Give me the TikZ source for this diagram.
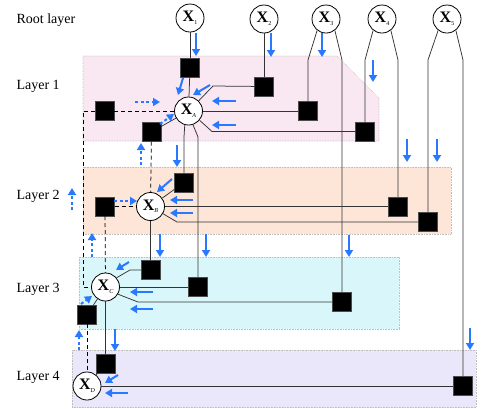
\documentclass[tikz,border=0pt]{standalone}
\usepackage{fontspec}
\setmainfont{Liberation Serif}
\usetikzlibrary{arrows.meta}

\definecolor{flowblue}{RGB}{41,121,255}
\definecolor{zoneA}{RGB}{249,231,242}
\definecolor{zoneB}{RGB}{253,229,215}
\definecolor{zoneC}{RGB}{217,246,250}
\definecolor{zoneD}{RGB}{235,231,250}

\newcommand{\vx}[1]{\textbf{X}\raisebox{-2.5pt}{\fontsize{6}{6}\selectfont#1}}

\begin{document}
\begin{tikzpicture}[x=1pt,y=-1pt,
  var/.style={circle,draw,fill=white,line width=0.8pt,minimum size=28pt,inner sep=0pt,font=\fontsize{16}{16}\selectfont},
  fac/.style={rectangle,fill=black,draw=black!70,minimum size=19pt,inner sep=0pt},
  lab/.style={anchor=west,font=\fontsize{14}{16}\selectfont},
  link/.style={draw=black!80,line width=0.75pt},
  dlink/.style={draw=black,line width=0.75pt,dash pattern=on 4pt off 3pt},
  flow/.style={draw=flowblue,line width=2pt,-{Triangle[length=7pt,width=8pt]}},
  dflow/.style={flow,dash pattern=on 3pt off 2.5pt},
  zone/.style={draw=gray!50,densely dotted,line width=0.6pt}]
 \useasboundingbox (0,0) rectangle (485,408);
 % layers
 \draw[zone,fill=zoneA](83,56)--(337,56)--(379,98)--(379,141)--(83,141)--cycle;
 \draw[zone,fill=zoneB](83,167) rectangle (451,234);
 \draw[zone,fill=zoneC](79,257) rectangle (399,329);
 \draw[zone,fill=zoneD](72,350) rectangle (476,407.5);
 \node[lab] (lr) at (13,20) {Root layer};
 \node[lab] (l1) at (13,86) {Layer 1};
 \node[lab] (l2) at (13,196) {Layer 2};
 \node[lab] (l3) at (13,289) {Layer 3};
 \node[lab] (l4) at (13,377) {Layer 4};
 % variables
 \node[var] (x1) at (190,18) {\vx{1}};
 \node[var] (x2) at (264,19) {\vx{2}};
 \node[var] (x3) at (326,19) {\vx{3}};
 \node[var] (x4) at (382,19) {\vx{4}};
 \node[var] (x5) at (447,19) {\vx{5}};
 \node[var] (xa) at (188.5,111) {\vx{\itshape A}};
 \node[var] (xb) at (150.5,206.5) {\vx{\itshape B}};
 \node[var] (xc) at (105.5,287) {\vx{\itshape C}};
 \node[var] (xd) at (87,386) {\vx{\itshape D}};
 % factors
 \node[fac] (sa1) at (190,68) {};
 \node[fac] (sa2) at (264,86.5) {};
 \node[fac] (sa3) at (308,111) {};
 \node[fac] (sa4) at (365,131.5) {};
 \node[fac] (sal) at (104.5,111) {};
 \node[fac] (sab) at (151.5,132) {};
 \node[fac] (sb1) at (184,182.5) {};
 \node[fac] (sbl) at (105,206.5) {};
 \node[fac] (sb4) at (398,206.5) {};
 \node[fac] (sb5) at (428,222) {};
 \node[fac] (sc1) at (150.5,270) {};
 \node[fac] (sc2) at (198,287) {};
 \node[fac] (sc3) at (342,302) {};
 \node[fac] (scl) at (87,314.5) {};
 \node[fac] (sd1) at (105.5,363.5) {};
 \node[fac] (sd5) at (463,386) {};
 % links
 \draw[link](x1)--(sa1);
 \draw[link](x2)--(sa2);
 \draw[link](x3.232)--(308,60)--(sa3);
 \draw[link](x3.308)--(342,60)--(sc3);
 \draw[link](x4.232)--(365,60)--(sa4);
 \draw[link](x4.308)--(398,60)--(sb4);
 \draw[link](x5.232)--(428,60)--(sb5);
 \draw[link](x5.308)--(463,60)--(sd5);
 \draw[link](sa1)--(xa);
 \draw[link](xa.45)--(213,86)--(sa2);
 \draw[link](xa)--(sa3);
 \draw[link](xa.-40)--(212,131.5)--(sa4);
 \draw[link](xa.255)--(184,137)--(sb1);
 \draw[link](xa.288)--(198,137)--(sc2);
 \draw[link](sab)--(xa);
 \draw[dlink](xa)--(sal);
 \draw[dlink](sal.west)--(83,111)|-(xc);
 \draw[dlink](sab)--(xb);
 \draw[link](sb1)--(xb);
 \draw[dlink](sbl)--(xb);
 \draw[link](xb)--(sb4);
 \draw[link](xb.-30)--(177,222)--(sb5);
 \draw[link](xb)--(sc1);
 \draw[dlink](sbl)--(xc);
 \draw[link](sc1.west)--(130,270)--(xc.40);
 \draw[link](xc)--(sc2);
 \draw[link](xc.-30)--(138,302)--(sc3);
 \draw[link](scl)--(xc);
 \draw[dlink](scl)--(xd);
 \draw[link](xc)--(sd1);
 \draw[link](sd1)--(xd);
 \draw[link](xd)--(sd5);
 % messages
 \draw[flow](196,33)--(196,56);
 \draw[flow](271,33)--(271,57);
 \draw[flow](322,33)--(322,57);
 \draw[flow](373,60)--(373,82);
 \draw[flow](407,139)--(407,162);
 \draw[flow](437,139)--(437,162);
 \draw[flow](183,78)--(178,95);
 \draw[flow](210,85)--(193,95);
 \draw[flow](236,101)--(212,101);
 \draw[flow](236,125)--(212,125);
 \draw[dflow](135,102)--(160,102);
 \draw[dflow](160,124)--(174,114);
 \draw[dflow](141,165)--(141,143);
 \draw[flow](177,145)--(177,167);
 \draw[flow](172,179)--(157,192);
 \draw[flow](193,200)--(170,200);
 \draw[flow](193,213)--(170,213);
 \draw[dflow](114,201)--(137,201);
 \draw[dflow](72,210)--(72,188);
 \draw[dflow](92,257)--(92,233);
 \draw[flow](160,234)--(160,257);
 \draw[flow](206,234)--(206,257);
 \draw[flow](349,235)--(349,257);
 \draw[flow](129,262)--(116,270);
 \draw[flow](153,292)--(130,292);
 \draw[flow](153,309)--(130,309);
 \draw[dflow](81,304)--(92,296);
 \draw[dflow](79,350)--(79,330);
 \draw[flow](115,329)--(115,351);
 \draw[flow](470,328)--(470,350);
 \draw[flow](118,375)--(105,383);
 \draw[flow](128,393)--(105,393);
\end{tikzpicture}
\end{document}
